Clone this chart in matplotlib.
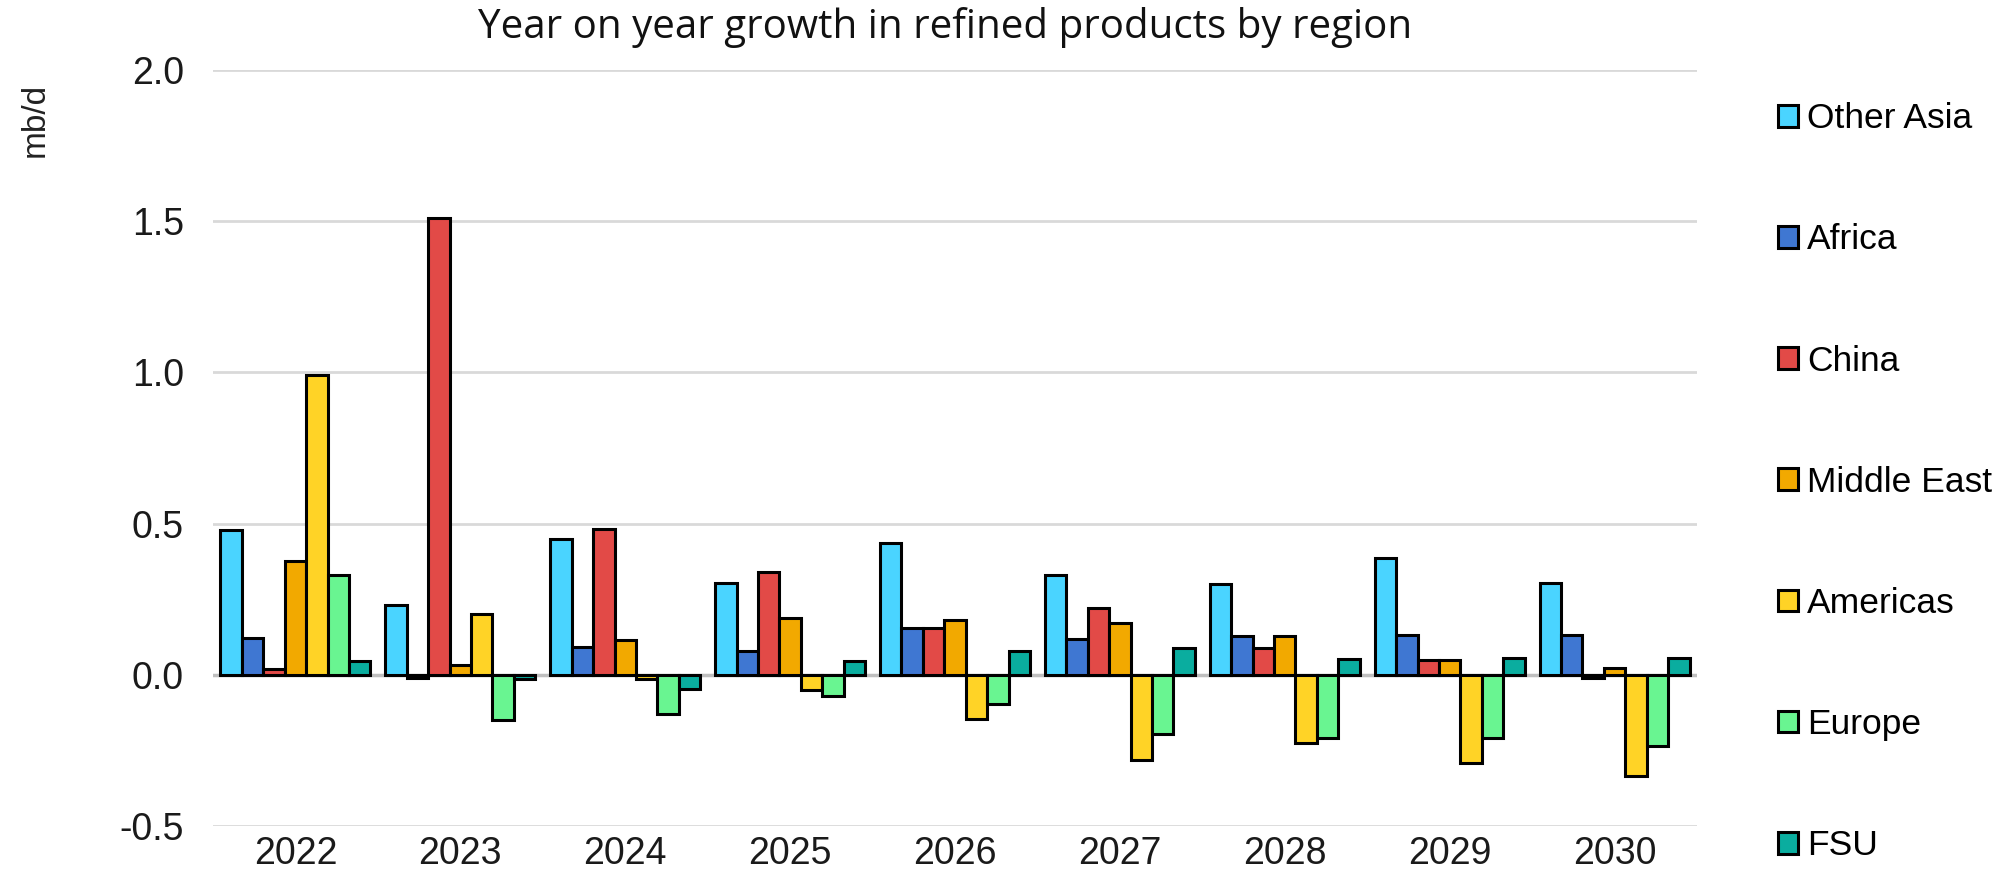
import matplotlib
matplotlib.use("Agg")
import matplotlib.pyplot as plt
import numpy as np

years = ["2022", "2023", "2024", "2025", "2026", "2027", "2028", "2029", "2030"]
regions = ["Other Asia", "Africa", "China", "Middle East", "Americas", "Europe", "FSU"]
colors = ["#4AD4FF", "#3F77D2", "#E24A47", "#F2A900", "#FFD326", "#69F591", "#0AAD9F"]

other_asia = [0.48, 0.23, 0.45, 0.305, 0.437, 0.33, 0.30, 0.385, 0.305]
africa = [0.123, -0.01, 0.092, 0.079, 0.156, 0.12, 0.127, 0.131, 0.131]
china = [0.02, 1.51, 0.483, 0.341, 0.156, 0.22, 0.09, 0.048, -0.009]
middle_east = [0.377, 0.033, 0.115, 0.189, 0.18, 0.17, 0.127, 0.048, 0.024]
americas = [0.99, 0.20, -0.015, -0.051, -0.146, -0.282, -0.224, -0.293, -0.336]
europe = [0.33, -0.149, -0.13, -0.07, -0.097, -0.196, -0.209, -0.209, -0.235]
fsu = [0.044, -0.015, -0.047, 0.046, 0.079, 0.088, 0.052, 0.057, 0.057]
series = [other_asia, africa, china, middle_east, americas, europe, fsu]

W, H = 2008, 874
fig = plt.figure(figsize=(W / 100, H / 100), dpi=100)
ax = fig.add_axes([213 / W, 1 - 826 / H, (1697 - 213) / W, (826 - 70) / H])

x = np.arange(len(years))
bw = 0.13
for i, (name, vals, c) in enumerate(zip(regions, series, colors)):
    ax.bar(x + (i - 3) * bw, vals, bw, color=c, edgecolor="black", linewidth=2.2,
           label=name, zorder=3)

ax.set_xlim(-0.5, len(years) - 0.5)
ax.set_ylim(-0.5, 2.0)
ax.set_yticks([-0.5, 0.0, 0.5, 1.0, 1.5, 2.0])
ax.set_yticklabels(["-0.5", "0.0", "0.5", "1.0", "1.5", "2.0"])
ax.set_xticks(x)
ax.set_xticklabels(years)
ax.tick_params(length=0, labelsize=27)
ax.tick_params(axis="x", pad=7)
ax.tick_params(axis="y", pad=21)
for lab in ax.get_xticklabels() + ax.get_yticklabels():
    lab.set_family("Liberation Sans")
    lab.set_color("#1a1a1a")
ax.grid(axis="y", color="#D9D9D9", linewidth=2, zorder=0)
ax.axhline(0, color="#BFBFBF", linewidth=2.5, zorder=2)
for s in ax.spines.values():
    s.set_visible(False)

fig.text(945 / W, 1 - 28 / H, "Year on year growth in refined products by region",
         ha="center", va="center", fontsize=29, family="Open Sans", color="#111111")
fig.text(35 / W, 1 - 120 / H, "mb/d", rotation=90, ha="center", va="center",
         fontsize=24, family="Liberation Sans", color="#222222")

fig.legend(loc="upper left", bbox_to_anchor=(1764 / W, 1 - 88 / H), frameon=False,
           prop={"family": "Liberation Sans", "size": 25.5}, handlelength=0.57,
           handleheight=0.57, handletextpad=0.25, labelspacing=2.49, borderaxespad=0)

fig.savefig("out.png", dpi=100)
